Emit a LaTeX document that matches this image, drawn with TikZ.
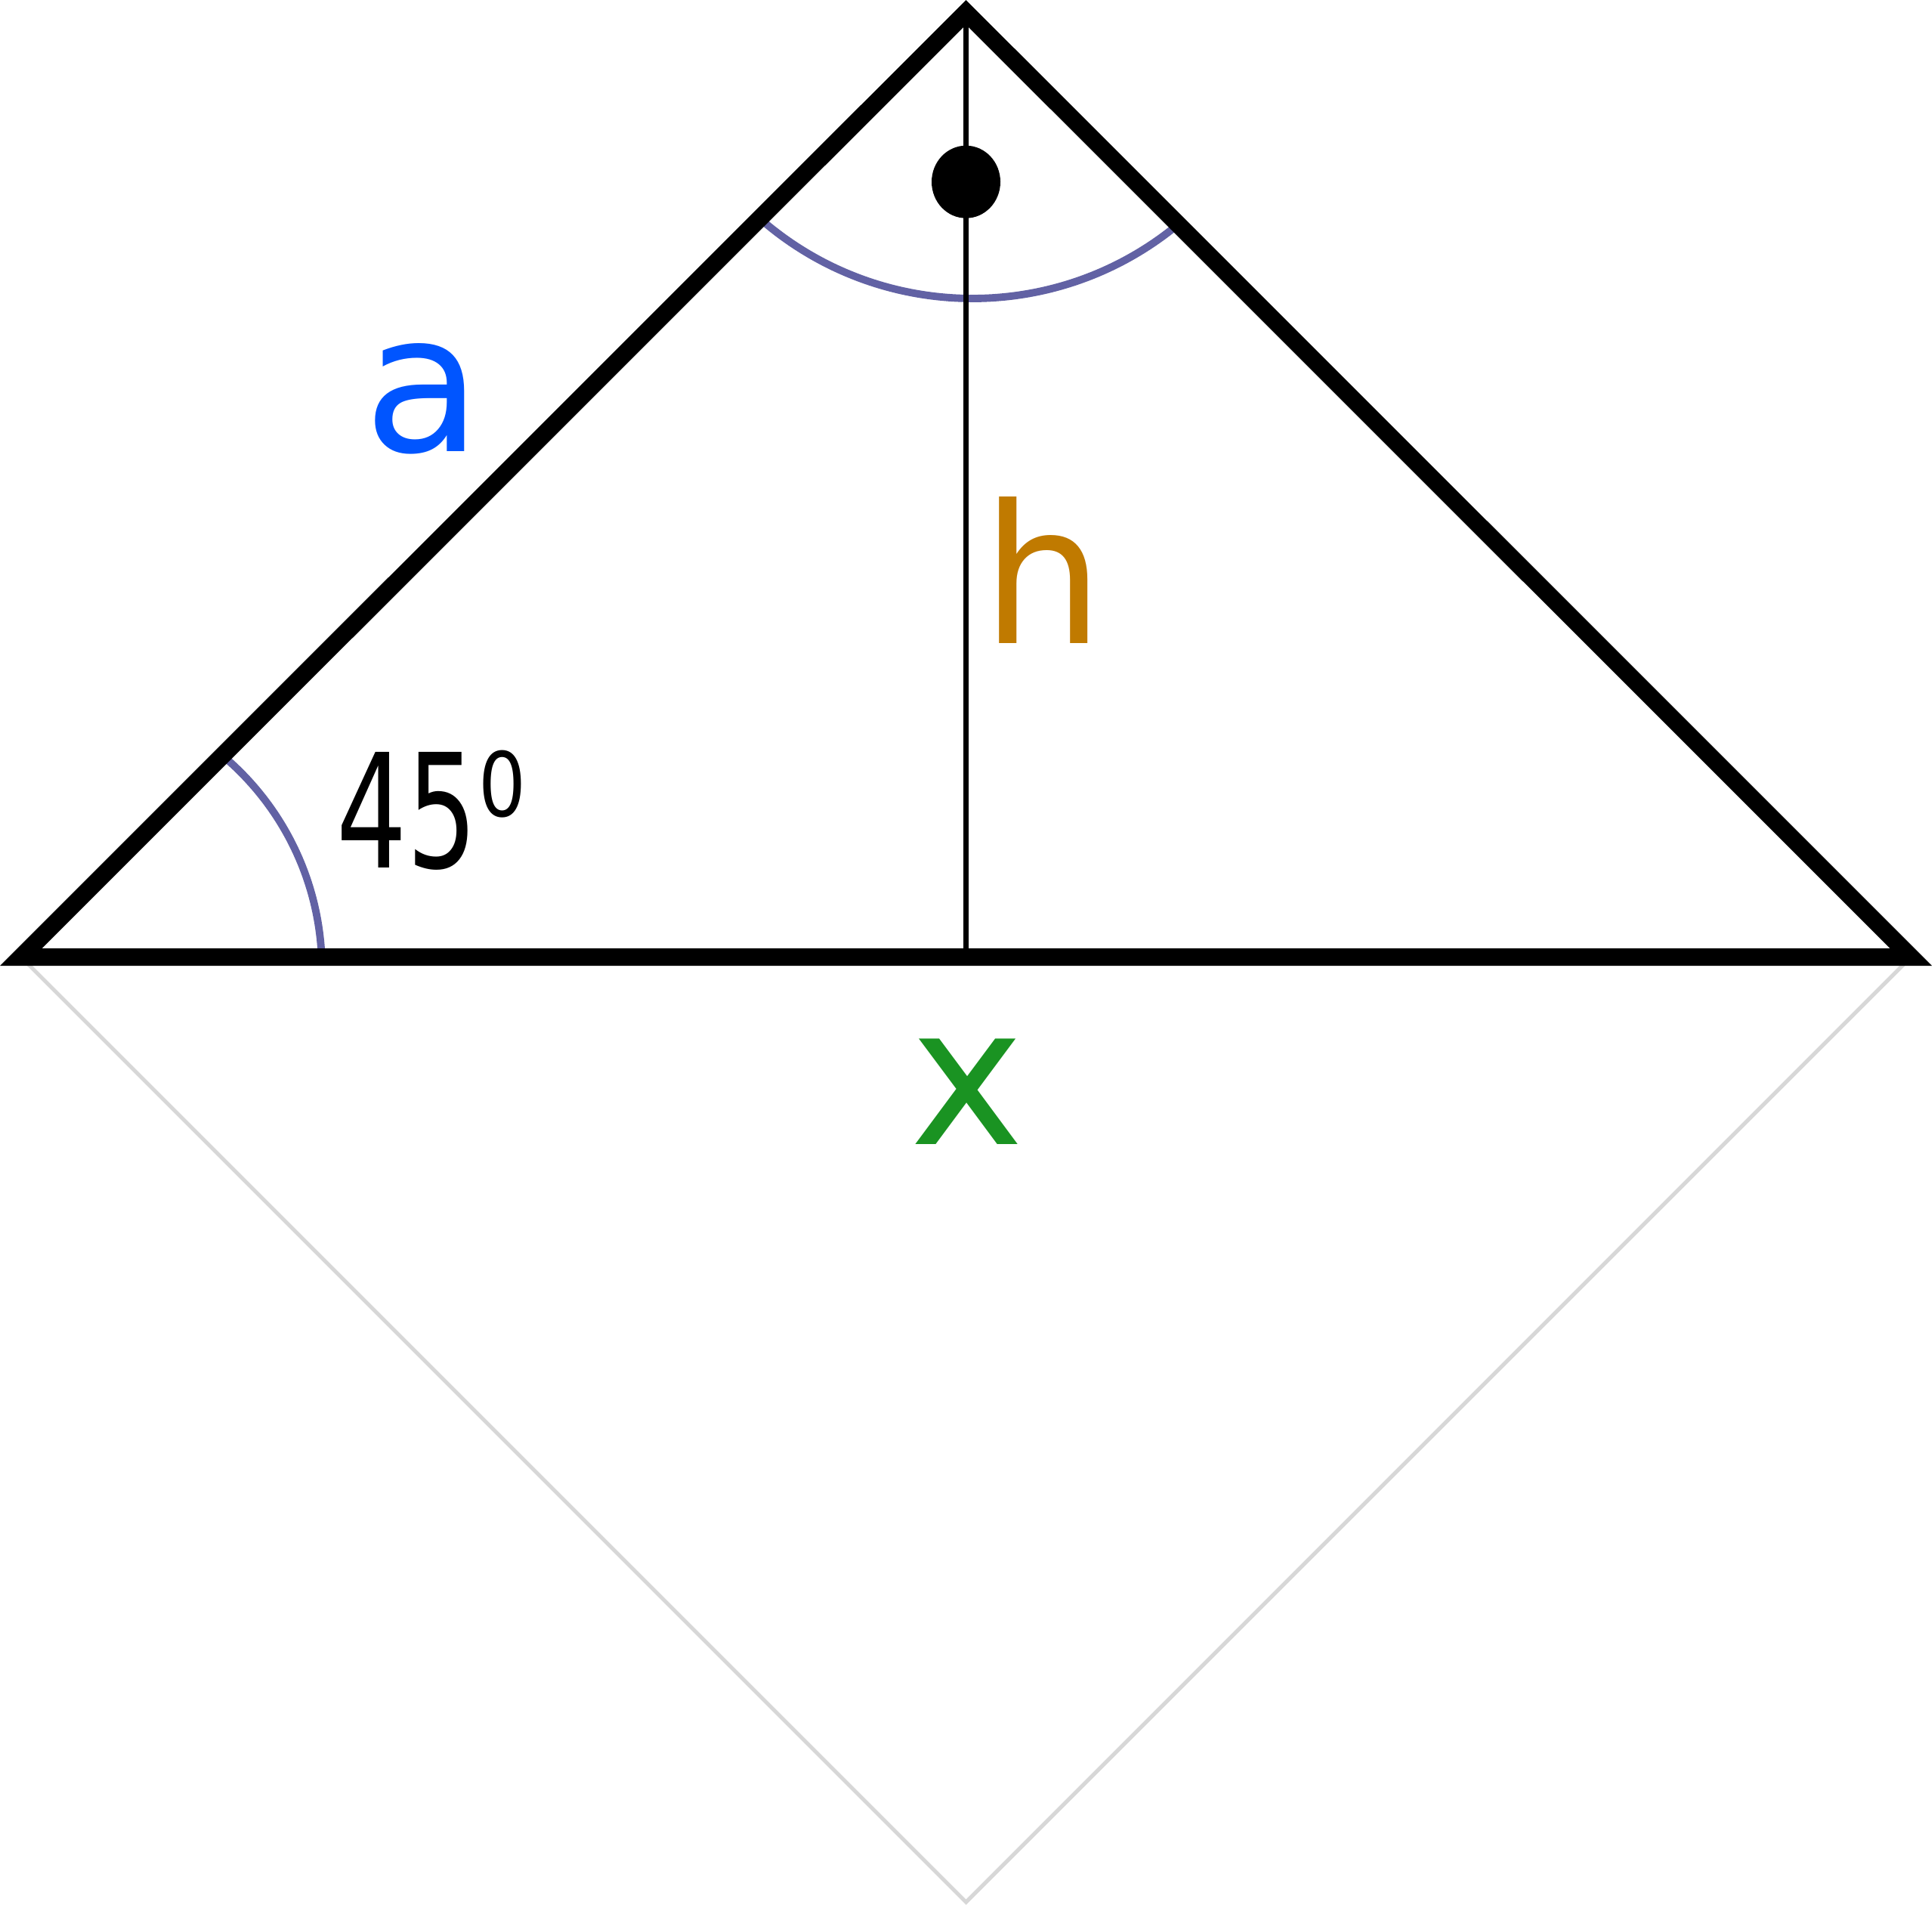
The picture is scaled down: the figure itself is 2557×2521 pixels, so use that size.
\documentclass[tikz,border=0pt]{standalone}
\usepackage{graphicx}
\usepackage{fontspec}
\setmainfont{DejaVu Sans}
\definecolor{ablue}{RGB}{0,85,255}
\definecolor{horange}{RGB}{192,122,0}
\definecolor{xgreen}{RGB}{26,147,34}
\definecolor{arcpurple}{RGB}{98,98,164}
\definecolor{lightgray}{RGB}{215,215,215}
\tikzset{
  bigtext/.style={anchor=base, inner sep=0pt, font=\fontsize{72.6}{80}\selectfont},
  angletext/.style={anchor=base, inner sep=0pt, font=\fontsize{59.7}{66}\selectfont},
  suptext/.style={anchor=base, inner sep=0pt, font=\fontsize{33.5}{38}\selectfont},
  tri/.style={line width=6.54pt, line join=miter},
  anglearc/.style={line width=2.8pt, draw=arcpurple},
  ghost/.style={line width=1.42pt, draw=lightgray},
  heightline/.style={line width=1.75pt}
}
\begin{document}
\begin{tikzpicture}[x=0.01cm, y=-0.01cm]
\fill[white] (0,0) rectangle (2557,2521);
\useasboundingbox (0,0) rectangle (2557,2521);
\coordinate (A) at (27.8,1266.5);
\coordinate (B) at (1278.5,16.3);
\coordinate (C) at (2529.2,1266.5);
\coordinate (D) at (1278.5,2517.2);
\coordinate (F) at (1278.5,1266.5);
% ghost lower half of square
\draw[ghost] (A) -- (D) -- (C);
% angle arcs
\draw[anglearc, shift={(1287,-32)}] (131:427) arc[start angle=131, end angle=50, radius=427];
\draw[anglearc, shift={(57.5,1282)}] (-50:368.5) arc[start angle=-50, end angle=-1, radius=368.5];
% height
\draw[heightline] (B) -- (F);
% triangle
\draw[tri] (A) -- (B) -- (C) -- cycle;
% right angle dot
\fill (1278.5,240.7) ellipse[x radius=45.5, y radius=48];
% labels
\node[bigtext, text=ablue] (la) at (560,597) {a};
\node[bigtext, text=horange] (lh) at (1380,851) {h};
\node[bigtext, text=xgreen] (lx) at (1280.5,1514) {x};
\node[angletext] (ang) at (539,1148) {\scalebox{0.70}[1]{45}};
\node[suptext] (deg) at (665,1080) {\scalebox{0.84}[1]{0}};
\end{tikzpicture}
\end{document}
